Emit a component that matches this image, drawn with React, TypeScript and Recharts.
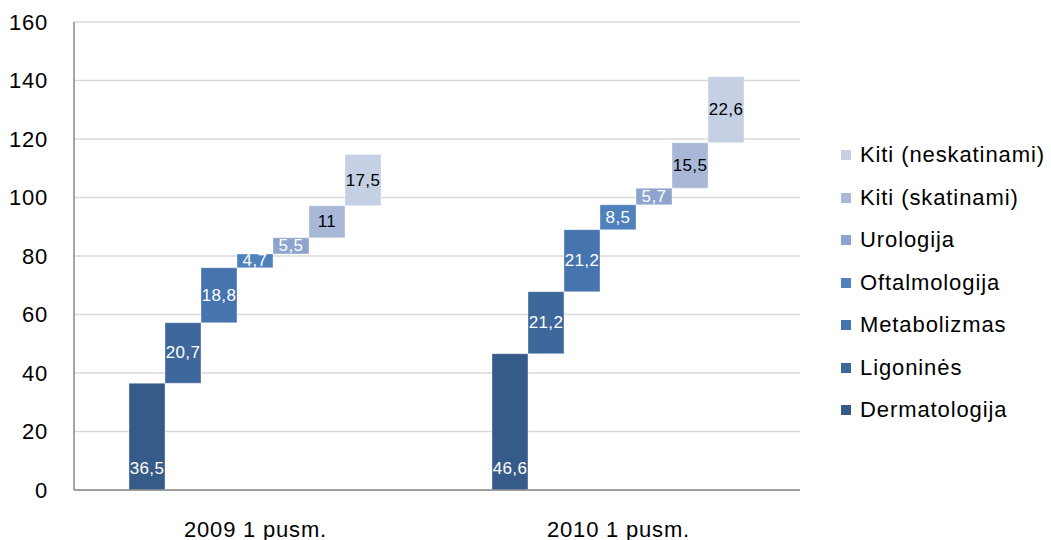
import React from "react";
import { ComposedChart, Bar, XAxis, YAxis, CartesianGrid, LabelList } from "recharts";

const categories = ["2009 1 pusm.", "2010 1 pusm."];
const seriesNames = [
  "Dermatologija",
  "Ligoninės",
  "Metabolizmas",
  "Oftalmologija",
  "Urologija",
  "Kiti (skatinami)",
  "Kiti (neskatinami)",
];
const dermatologija = [36.5, 46.6];
const ligonines = [20.7, 21.2];
const metabolizmas = [18.8, 21.2];
const oftalmologija = [4.7, 8.5];
const urologija = [5.5, 5.7];
const kitiSkatinami = [11, 15.5];
const kitiNeskatinami = [17.5, 22.6];
const yTicks = [0, 20, 40, 60, 80, 100, 120, 140, 160];

const seriesValues = [
  dermatologija,
  ligonines,
  metabolizmas,
  oftalmologija,
  urologija,
  kitiSkatinami,
  kitiNeskatinami,
];
const colors = ["#375B88", "#3E679C", "#4674AE", "#4F81BD", "#8DA4CC", "#A9B8D6", "#C6D0E4"];
const labelColors = ["#fff", "#fff", "#fff", "#fff", "#fff", "#000", "#000"];

// waterfall: each block floats on the sum of the previous ones
const data = categories.map((name, ci) => {
  const row: any = { name };
  let base = 0;
  seriesValues.forEach((vals, si) => {
    row["s" + si] = [base, base + vals[ci]];
    base += vals[ci];
  });
  return row;
});

const fmt = (v: number) => String(v).replace(".", ",");
const FONT = "'Liberation Sans', Arial, sans-serif";

const makeLabel = (si: number) => (props: any) => {
  const { x, y, width, height, index } = props;
  const v = seriesValues[si][index];
  const cy = si === 0 ? y + height - 22 : y + height / 2;
  return (
    <text
      x={x + width / 2}
      y={cy}
      textAnchor="middle"
      dominantBaseline="central"
      fill={labelColors[si]}
      fontSize={17}
      letterSpacing={0.4}
      fontFamily={FONT}
    >
      {fmt(v)}
    </text>
  );
};

const YTick = ({ x, y, payload }: any) => (
  <text
    x={x - 24}
    y={y}
    textAnchor="end"
    dominantBaseline="central"
    fontSize={22}
    letterSpacing={0.8}
    fill="#000"
    fontFamily={FONT}
  >
    {payload.value}
  </text>
);

const XTick = ({ x, y, payload }: any) => (
  <text
    x={x}
    y={y + 37}
    textAnchor="middle"
    dominantBaseline="central"
    fontSize={22}
    letterSpacing={0.8}
    fill="#000"
    fontFamily={FONT}
  >
    {payload.value}
  </text>
);

export default function App() {
  return (
    <div style={{ position: "absolute", left: 0, top: 0, width: 1051, height: 540, background: "#fff" }}>
      <ComposedChart
        width={1051}
        height={540}
        data={data}
        margin={{ top: 22, right: 251, bottom: 0, left: 0 }}
        barCategoryGap="15.15%"
        barGap={0}
      >
        <CartesianGrid vertical={false} stroke="#D9D9D9" strokeWidth={1.5} />
        <XAxis
          dataKey="name"
          height={50}
          tickLine={false}
          tickSize={0}
          tick={<XTick />}
          axisLine={{ stroke: "#888", strokeWidth: 1.5 }}
        />
        <YAxis
          width={74}
          domain={[0, 160]}
          ticks={yTicks}
          tickLine={false}
          tickSize={0}
          tick={<YTick />}
          axisLine={{ stroke: "#888", strokeWidth: 1.5 }}
        />
        {seriesNames.map((n, si) => (
          <Bar
            key={n}
            name={n}
            dataKey={"s" + si}
            fill={colors[si]}
            stroke="rgba(255,255,255,0.35)"
            strokeWidth={1}
            isAnimationActive={false}
          >
            <LabelList content={makeLabel(si)} />
          </Bar>
        ))}
      </ComposedChart>
      <div
        style={{
          position: "absolute",
          left: 841,
          top: 134,
          fontFamily: FONT,
          fontSize: 22,
          letterSpacing: 0.9,
          color: "#000",
          whiteSpace: "nowrap",
        }}
      >
        {seriesNames
          .map((n, si) => ({ n, si }))
          .reverse()
          .map(({ n, si }) => (
            <div key={n} style={{ display: "flex", alignItems: "center", height: 42.5 }}>
              <span style={{ display: "inline-block", width: 10, height: 10, background: colors[si], marginRight: 9 }} />
              <span>{n}</span>
            </div>
          ))}
      </div>
    </div>
  );
}
